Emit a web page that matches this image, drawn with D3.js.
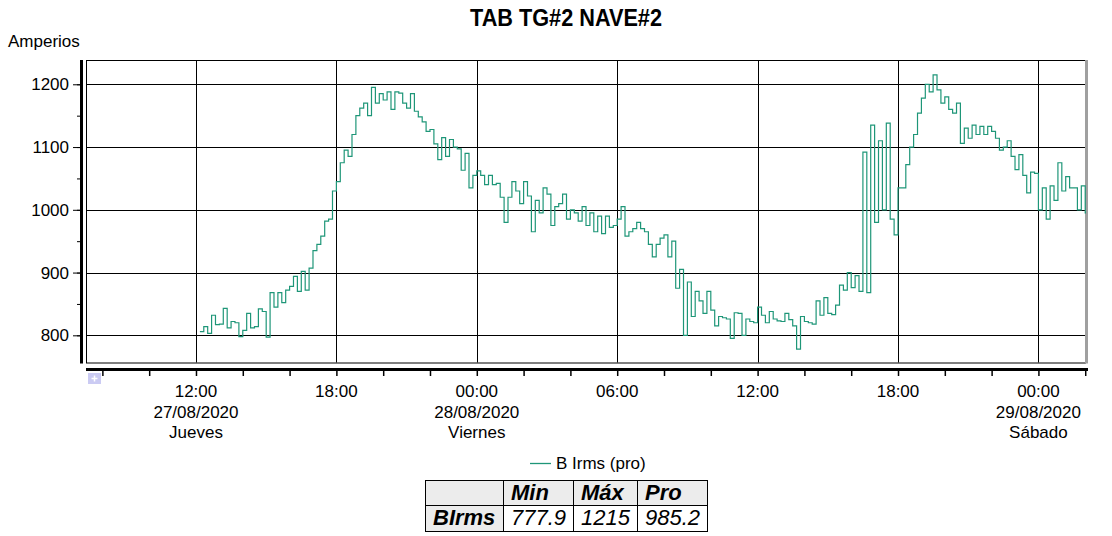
<!DOCTYPE html>
<html>
<head>
<meta charset="utf-8">
<script src="https://cdn.jsdelivr.net/npm/d3@7"></script>
<style>
  body { margin: 0; background: #fff; }
  text { font-family: "Liberation Sans", Arial, sans-serif; fill: #000; }
</style>
</head>
<body>
<svg id="chart" width="1112" height="536"></svg>
<script>
// Datos: corriente B Irms (promedio), una muestra cada 10 minutos desde 27/08 12:10
const serieNombre = "B Irms (pro)"
const inicio = new Date(2020, 7, 27, 12, 10)
const pasoMin = 10
const bIrms = [
  806, 814, 803, 832, 817, 818, 843, 812, 822, 820,
  798, 808, 835, 812, 814, 842, 838, 797, 868, 845,
  868, 852, 872, 878, 894, 870, 902, 872, 907, 935,
  945, 958, 982, 985, 1030, 1045, 1075, 1095, 1085, 1120,
  1150, 1162, 1170, 1150, 1195, 1170, 1185, 1175, 1188, 1160,
  1188, 1186, 1170, 1162, 1185, 1157, 1148, 1140, 1125, 1128,
  1105, 1080, 1115, 1085, 1112, 1100, 1097, 1063, 1090, 1035,
  1055, 1062, 1055, 1040, 1055, 1040, 1042, 1020, 980, 1020,
  1045, 1030, 1010, 1045, 1022, 965, 1015, 995, 1035, 1025,
  975, 1005, 1010, 1025, 985, 1000, 995, 982, 1005, 975,
  995, 965, 990, 962, 990, 972, 975, 985, 1005, 958,
  965, 970, 980, 970, 965, 945, 925, 945, 955, 960,
  925, 950, 875, 905, 800, 885, 830, 870, 855, 835,
  870, 840, 815, 830, 828, 826, 795, 836, 835, 800,
  826, 822, 820, 845, 832, 820, 838, 826, 823, 822,
  835, 825, 815, 778, 830, 822, 820, 818, 855, 832,
  860, 835, 833, 848, 880, 872, 900, 876, 895, 870,
  1092, 868, 1135, 980, 1110, 1000, 1138, 985, 960, 1035,
  1035, 1072, 1100, 1120, 1154, 1178, 1200, 1188, 1215, 1191,
  1170, 1180, 1160, 1154, 1170, 1106, 1130, 1114, 1135, 1120,
  1133, 1120, 1133, 1125, 1114, 1095, 1100, 1110, 1085, 1064,
  1088, 1055, 1027, 1060, 1058, 1000, 1035, 985, 1038, 1015,
  1075, 1030, 1053, 1035, 1035, 1000, 1038, 995
]

const yTicks = [800, 900, 1000, 1100, 1200]
const yMinorTicks = [800, 850, 900, 950, 1000, 1050, 1100, 1150, 1200]
const xMajorTicks = [
  new Date(2020, 7, 27, 12), new Date(2020, 7, 27, 18), new Date(2020, 7, 28, 0),
  new Date(2020, 7, 28, 6), new Date(2020, 7, 28, 12), new Date(2020, 7, 28, 18),
  new Date(2020, 7, 29, 0)
]
const horaLabels = ["12:00", "18:00", "00:00", "06:00", "12:00", "18:00", "00:00"]
const fechaLabels = ["27/08/2020", "", "28/08/2020", "", "", "", "29/08/2020"]
const diaLabels = ["Jueves", "", "Viernes", "", "", "", "Sábado"]

// Tabla de estadisticas
const statCols = ["Min", "Máx", "Pro"]
const statRow = "BIrms"
const statVals = ["777.9", "1215", "985.2"]

const color = "#1e9678"

const svg = d3.select("#chart")
const pLeft = 86, pRight = 1086, pTop = 60, pBottom = 362.5

// Escalas
const x = d3.scaleTime()
  .domain([new Date(2020, 7, 27, 7, 18), new Date(2020, 7, 29, 2, 2)])
  .range([pLeft, pRight])
const y = d3.scaleLinear()
  .domain([756.7, 1238.7])
  .range([pBottom, pTop])

const datos = bIrms.map((v, i) => ({ t: new Date(inicio.getTime() + i * pasoMin * 60000), v: v }))

// Titulo
svg.append("text")
  .attr("x", 566).attr("y", 26)
  .attr("text-anchor", "middle")
  .attr("textLength", 192).attr("lengthAdjust", "spacingAndGlyphs")
  .style("font-size", "23px").style("font-weight", "bold")
  .text("TAB TG#2 NAVE#2")

svg.append("text")
  .attr("x", 8).attr("y", 47)
  .style("font-size", "17px")
  .text("Amperios")

// Grilla
const grid = svg.append("g")
grid.selectAll(".gy").data(yTicks).enter().append("line")
  .attr("x1", pLeft).attr("x2", pRight)
  .attr("y1", d => Math.round(y(d)) + 0.5).attr("y2", d => Math.round(y(d)) + 0.5)
  .attr("stroke", "#000").attr("stroke-width", 1)
grid.selectAll(".gx").data(xMajorTicks).enter().append("line")
  .attr("x1", d => Math.round(x(d)) + 0.5).attr("x2", d => Math.round(x(d)) + 0.5)
  .attr("y1", pTop).attr("y2", pBottom)
  .attr("stroke", "#000").attr("stroke-width", 1)

// Marco del area de trazado
svg.append("rect")
  .attr("x", pLeft + 0.5).attr("y", pTop + 0.5)
  .attr("width", pRight - pLeft - 1).attr("height", pBottom - pTop)
  .attr("fill", "none").attr("stroke", "#000")
svg.append("line")
  .attr("x1", pRight + 0.5).attr("x2", pRight + 0.5).attr("y1", pTop).attr("y2", pBottom + 1)
  .attr("stroke", "#a0a0a0").attr("stroke-width", 3)

// Serie
svg.append("clipPath").attr("id", "clip")
  .append("rect").attr("x", pLeft).attr("y", pTop).attr("width", pRight - pLeft).attr("height", pBottom - pTop)

const linea = d3.line()
  .x(d => x(d.t))
  .y(d => y(d.v))
  .curve(d3.curveStepAfter)

const ultimo = datos[datos.length - 1]
svg.append("path")
  .datum(datos.concat([{ t: x.domain()[1], v: ultimo.v }]))
  .attr("clip-path", "url(#clip)")
  .attr("fill", "none")
  .attr("stroke", color)
  .attr("stroke-width", 1.2)
  .attr("d", linea)

// Eje Y
svg.append("rect").attr("x", 80).attr("y", pTop).attr("width", 3).attr("height", pBottom - pTop + 1).attr("fill", "#000")
const ejeY = svg.append("g").attr("transform", "translate(80,0)")
  .call(d3.axisLeft(y).tickValues(yMinorTicks).tickSize(3).tickFormat(""))
ejeY.select(".domain").remove()
const ejeY2 = svg.append("g").attr("transform", "translate(80,0)")
  .call(d3.axisLeft(y).tickValues(yTicks).tickSize(7).tickPadding(4).tickFormat(d3.format("d")))
ejeY2.select(".domain").remove()
ejeY2.selectAll("text").style("font-size", "17px").style("font-family", "'Liberation Sans', Arial, sans-serif")
svg.selectAll(".tick line").attr("stroke", "#000")

// Eje X
svg.append("rect").attr("x", pLeft).attr("y", 368).attr("width", pRight - pLeft + 2).attr("height", 3).attr("fill", "#000")
const ejeX = svg.append("g").attr("transform", "translate(0,370)")
  .call(d3.axisBottom(x).ticks(d3.timeHour.every(2)).tickSize(6).tickFormat(""))
ejeX.select(".domain").remove()
ejeX.selectAll(".tick line").attr("stroke", "#000").attr("stroke-width", 1.5)

const etiquetas = svg.append("g").attr("text-anchor", "middle").style("font-size", "17px")
xMajorTicks.forEach((t, i) => {
  const g = etiquetas.append("text").attr("x", x(t)).attr("y", 397)
  g.append("tspan").attr("x", x(t)).text(horaLabels[i])
  if (fechaLabels[i]) g.append("tspan").attr("x", x(t)).attr("y", 417.5).text(fechaLabels[i])
  if (diaLabels[i]) g.append("tspan").attr("x", x(t)).attr("y", 438).text(diaLabels[i])
})

// Icono pequeño bajo el eje
svg.append("rect").attr("x", 88).attr("y", 373).attr("width", 13).attr("height", 11).attr("fill", "#cbcbf3")
svg.append("path").attr("d", "M91.5,378.5h6M94.5,375.5v6").attr("stroke", "#fff").attr("stroke-width", 1.5)

// Leyenda
svg.append("line").attr("x1", 530).attr("x2", 551).attr("y1", 463.5).attr("y2", 463.5)
  .attr("stroke", color).attr("stroke-width", 1.3)
svg.append("text").attr("x", 556).attr("y", 469).style("font-size", "17px").text(serieNombre)

// Tabla
const colX = [425, 503, 573, 637, 707]
const rowY = [480, 505, 531]
const tabla = svg.append("g")
tabla.append("rect").attr("x", colX[0]).attr("y", rowY[0]).attr("width", colX[4] - colX[0]).attr("height", rowY[1] - rowY[0]).attr("fill", "#ececec")
tabla.append("rect").attr("x", colX[0]).attr("y", rowY[1]).attr("width", colX[1] - colX[0]).attr("height", rowY[2] - rowY[1]).attr("fill", "#ececec")
colX.forEach(cx => tabla.append("line").attr("x1", cx + 0.5).attr("x2", cx + 0.5).attr("y1", rowY[0]).attr("y2", rowY[2]).attr("stroke", "#000"))
rowY.forEach(ry => tabla.append("line").attr("x1", colX[0]).attr("x2", colX[4] + 1).attr("y1", ry + 0.5).attr("y2", ry + 0.5).attr("stroke", "#000"))

statCols.forEach((c, i) => {
  tabla.append("text").attr("x", colX[i + 1] + 8).attr("y", rowY[1] - 5)
    .style("font-size", "22px").style("font-weight", "bold").style("font-style", "italic").text(c)
  tabla.append("text").attr("x", colX[i + 2] - 7).attr("y", rowY[2] - 6).attr("text-anchor", "end")
    .style("font-size", "22px").style("font-style", "italic").text(statVals[i])
})
tabla.append("text").attr("x", colX[0] + 8).attr("y", rowY[2] - 6)
  .style("font-size", "22px").style("font-weight", "bold").style("font-style", "italic").text(statRow)
</script>
</body>
</html>
